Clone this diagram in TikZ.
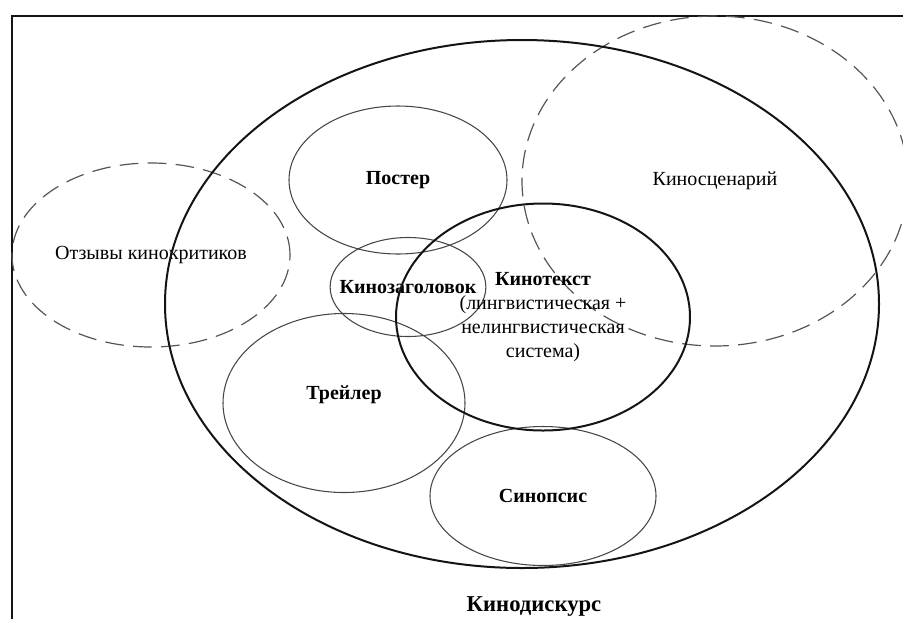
\documentclass[tikz,border=0pt]{standalone}
\usepackage{fontspec}
\setmainfont{Liberation Serif}
\usetikzlibrary{shapes.geometric}
\definecolor{KdLine}{RGB}{20,20,20}
\definecolor{KdThin}{RGB}{70,70,70}
\definecolor{KdDash}{RGB}{85,85,85}
\tikzset{
  kd/frame/.style={draw=KdLine, line width=1.5pt},
  kd/main/.style={
    ellipse,
    draw=KdLine,
    line width=1.5pt,
    inner sep=0pt,
    align=center,
    font=\fontsize{15pt}{18pt}\selectfont
  },
  kd/part/.style={
    ellipse,
    draw=KdThin,
    line width=0.8pt,
    inner sep=0pt,
    align=center,
    font=\fontsize{15pt}{18pt}\selectfont\bfseries
  },
  kd/outer/.style={
    ellipse,
    draw=KdDash,
    line width=0.9pt,
    dash pattern=on 14pt off 7pt,
    inner sep=0pt,
    align=center,
    font=\fontsize{15pt}{18pt}\selectfont
  },
  kd/title/.style={font=\fontsize{17pt}{20pt}\selectfont\bfseries, align=center}
}
\begin{document}
\begin{tikzpicture}[x=0.75pt,y=-0.75pt]
  \useasboundingbox (0,0) rectangle (903,619);
  % frame
  \coordinate (fbl) at (12,619);
  \coordinate (ftl) at (12,16);
  \coordinate (ftr) at (903,16);
  \draw[kd/frame] (fbl) -- (ftl) -- (ftr);
  % outer ellipses
  \node[kd/outer,minimum width=386pt*0.75,minimum height=330pt*0.75] (script) at (715,181) {Киносценарий};
  \node[kd/outer,minimum width=278pt*0.75,minimum height=184pt*0.75] (reviews) at (151,255) {Отзывы кинокритиков};
  \node[kd/main,minimum width=714pt*0.75,minimum height=528pt*0.75] (discourse) at (522,304) {};
  \node[kd/title] (dtitle) at (534,607) {Кинодискурс};
  % parts
  \node[kd/part,minimum width=218pt*0.75,minimum height=148pt*0.75] (poster) at (398,180) {Постер};
  \node[kd/part,inner xsep=-10pt,minimum width=154pt*0.75,minimum height=99pt*0.75] (headline) at (408,287) {Кинозаголовок};
  \node[kd/part,minimum width=242pt*0.75,minimum height=179pt*0.75] (trailer) at (344,403) {Трейлер\\[-3pt]};
  \node[kd/part,minimum width=226pt*0.75,minimum height=139pt*0.75] (synopsis) at (543,496) {Синопсис};
  \node[kd/main,minimum width=294pt*0.75,minimum height=227pt*0.75] (text) at (543,317)
    {\textbf{Кинотекст}\\(лингвистическая +\\нелингвистическая\\система)};
\end{tikzpicture}
\end{document}
